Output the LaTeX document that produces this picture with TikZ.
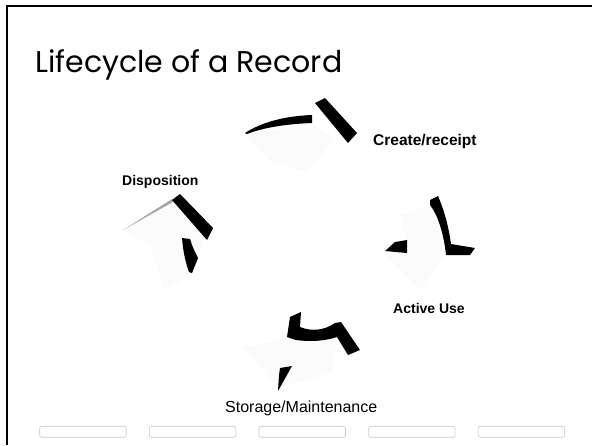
\documentclass[tikz,border=0pt]{standalone}
\usepackage{fontspec}
\setmainfont{Liberation Sans}
\newfontfamily\titlefont{Poppins}
\tikzset{
  blackbit/.style={fill=black, draw=none},
  bodyshade/.style={fill=gray!3, draw=none},
  lbl/.style={font=\fontsize{14}{16}\selectfont\bfseries, inner sep=0pt, anchor=base west},
  slotbox/.style={draw=gray!45, line width=0.6pt, rounded corners=2pt,
    minimum width=86.5pt, minimum height=11pt, inner sep=0pt},
}
\begin{document}
\begin{tikzpicture}[x=1pt,y=-1pt]
	\useasboundingbox (0,0) rectangle (592,445);
	\draw[line width=2pt] (7,445) -- (7,6) -- (592,6);
	\node[font=\titlefont\fontsize{30}{33}\selectfont, inner sep=0pt, anchor=base west] (title) at (35,72) {Lifecycle of a Record};
	% top arrow
	\fill[bodyshade] (245,135) -- (312,123) -- (335,140) -- (305,172) -- (268,160) -- cycle;
	\fill[blackbit] (245,133) .. controls (262,122) and (285,116) .. (312,115) -- (312,123) .. controls (288,124) and (265,127) .. (247,134) -- cycle;
	\fill[blackbit] (315,103) -- (325,98) -- (357,133) -- (348,143) -- cycle;
	% right arrow
	\fill[bodyshade] (400,215) -- (432,205) -- (445,255) -- (420,290) -- (385,255) -- (407,245) -- cycle;
	\fill[blackbit] (430,200) -- (438,196) .. controls (446,215) and (449,230) .. (451,244) -- (475,248) -- (470,255) -- (446,255) .. controls (444,235) and (438,215) .. (430,205) -- cycle;
	\fill[blackbit] (385,251) -- (395,242) -- (407,240) -- (407,253) -- cycle;
	% bottom arrow
	\fill[bodyshade] (243,347) -- (290,338) -- (337,337) -- (333,372) -- (278,388) -- cycle;
	\fill[blackbit] (290,317) -- (301,312) -- (300,327) .. controls (312,332) and (325,330) .. (335,323) -- (341,322) -- (360,350) -- (348,355) -- (337,337) .. controls (325,341) and (310,342) .. (296,340) -- (287,337) -- cycle;
	\fill[blackbit] (280,368) -- (292,366) -- (278,391) -- (279,375) -- cycle;
	% left arrow
	\fill[bodyshade] (123,230) -- (172,200) -- (205,235) -- (192,273) -- (165,290) -- (150,245) -- cycle;
	\fill[gray!70] (123,230) -- (172,199) -- (173,202) -- cycle;
	\fill[blackbit] (172,200) -- (180,194) -- (213,228) -- (207,240) -- cycle;
	\fill[blackbit] (182,238) -- (190,239) .. controls (193,248) .. (198,258) -- (192,273) -- (189,272) .. controls (184,258) and (183,248) .. (182,238) -- cycle;
	% labels
	\node[lbl, font=\fontsize{15.5}{17}\selectfont\bfseries] (create) at (373,145) {Create/receipt};
	\node[lbl] (disp) at (122,185) {Disposition};
	\node[lbl] (active) at (393,313) {Active Use};
	\node[lbl, font=\fontsize{16}{18}\selectfont] (storage) at (225,412) {Storage/Maintenance};
	% slots at the bottom
	\foreach \i in {0,...,4}
		\node[slotbox] (slot\i) at (83+109.6*\i,431.75) {};
\end{tikzpicture}
\end{document}
